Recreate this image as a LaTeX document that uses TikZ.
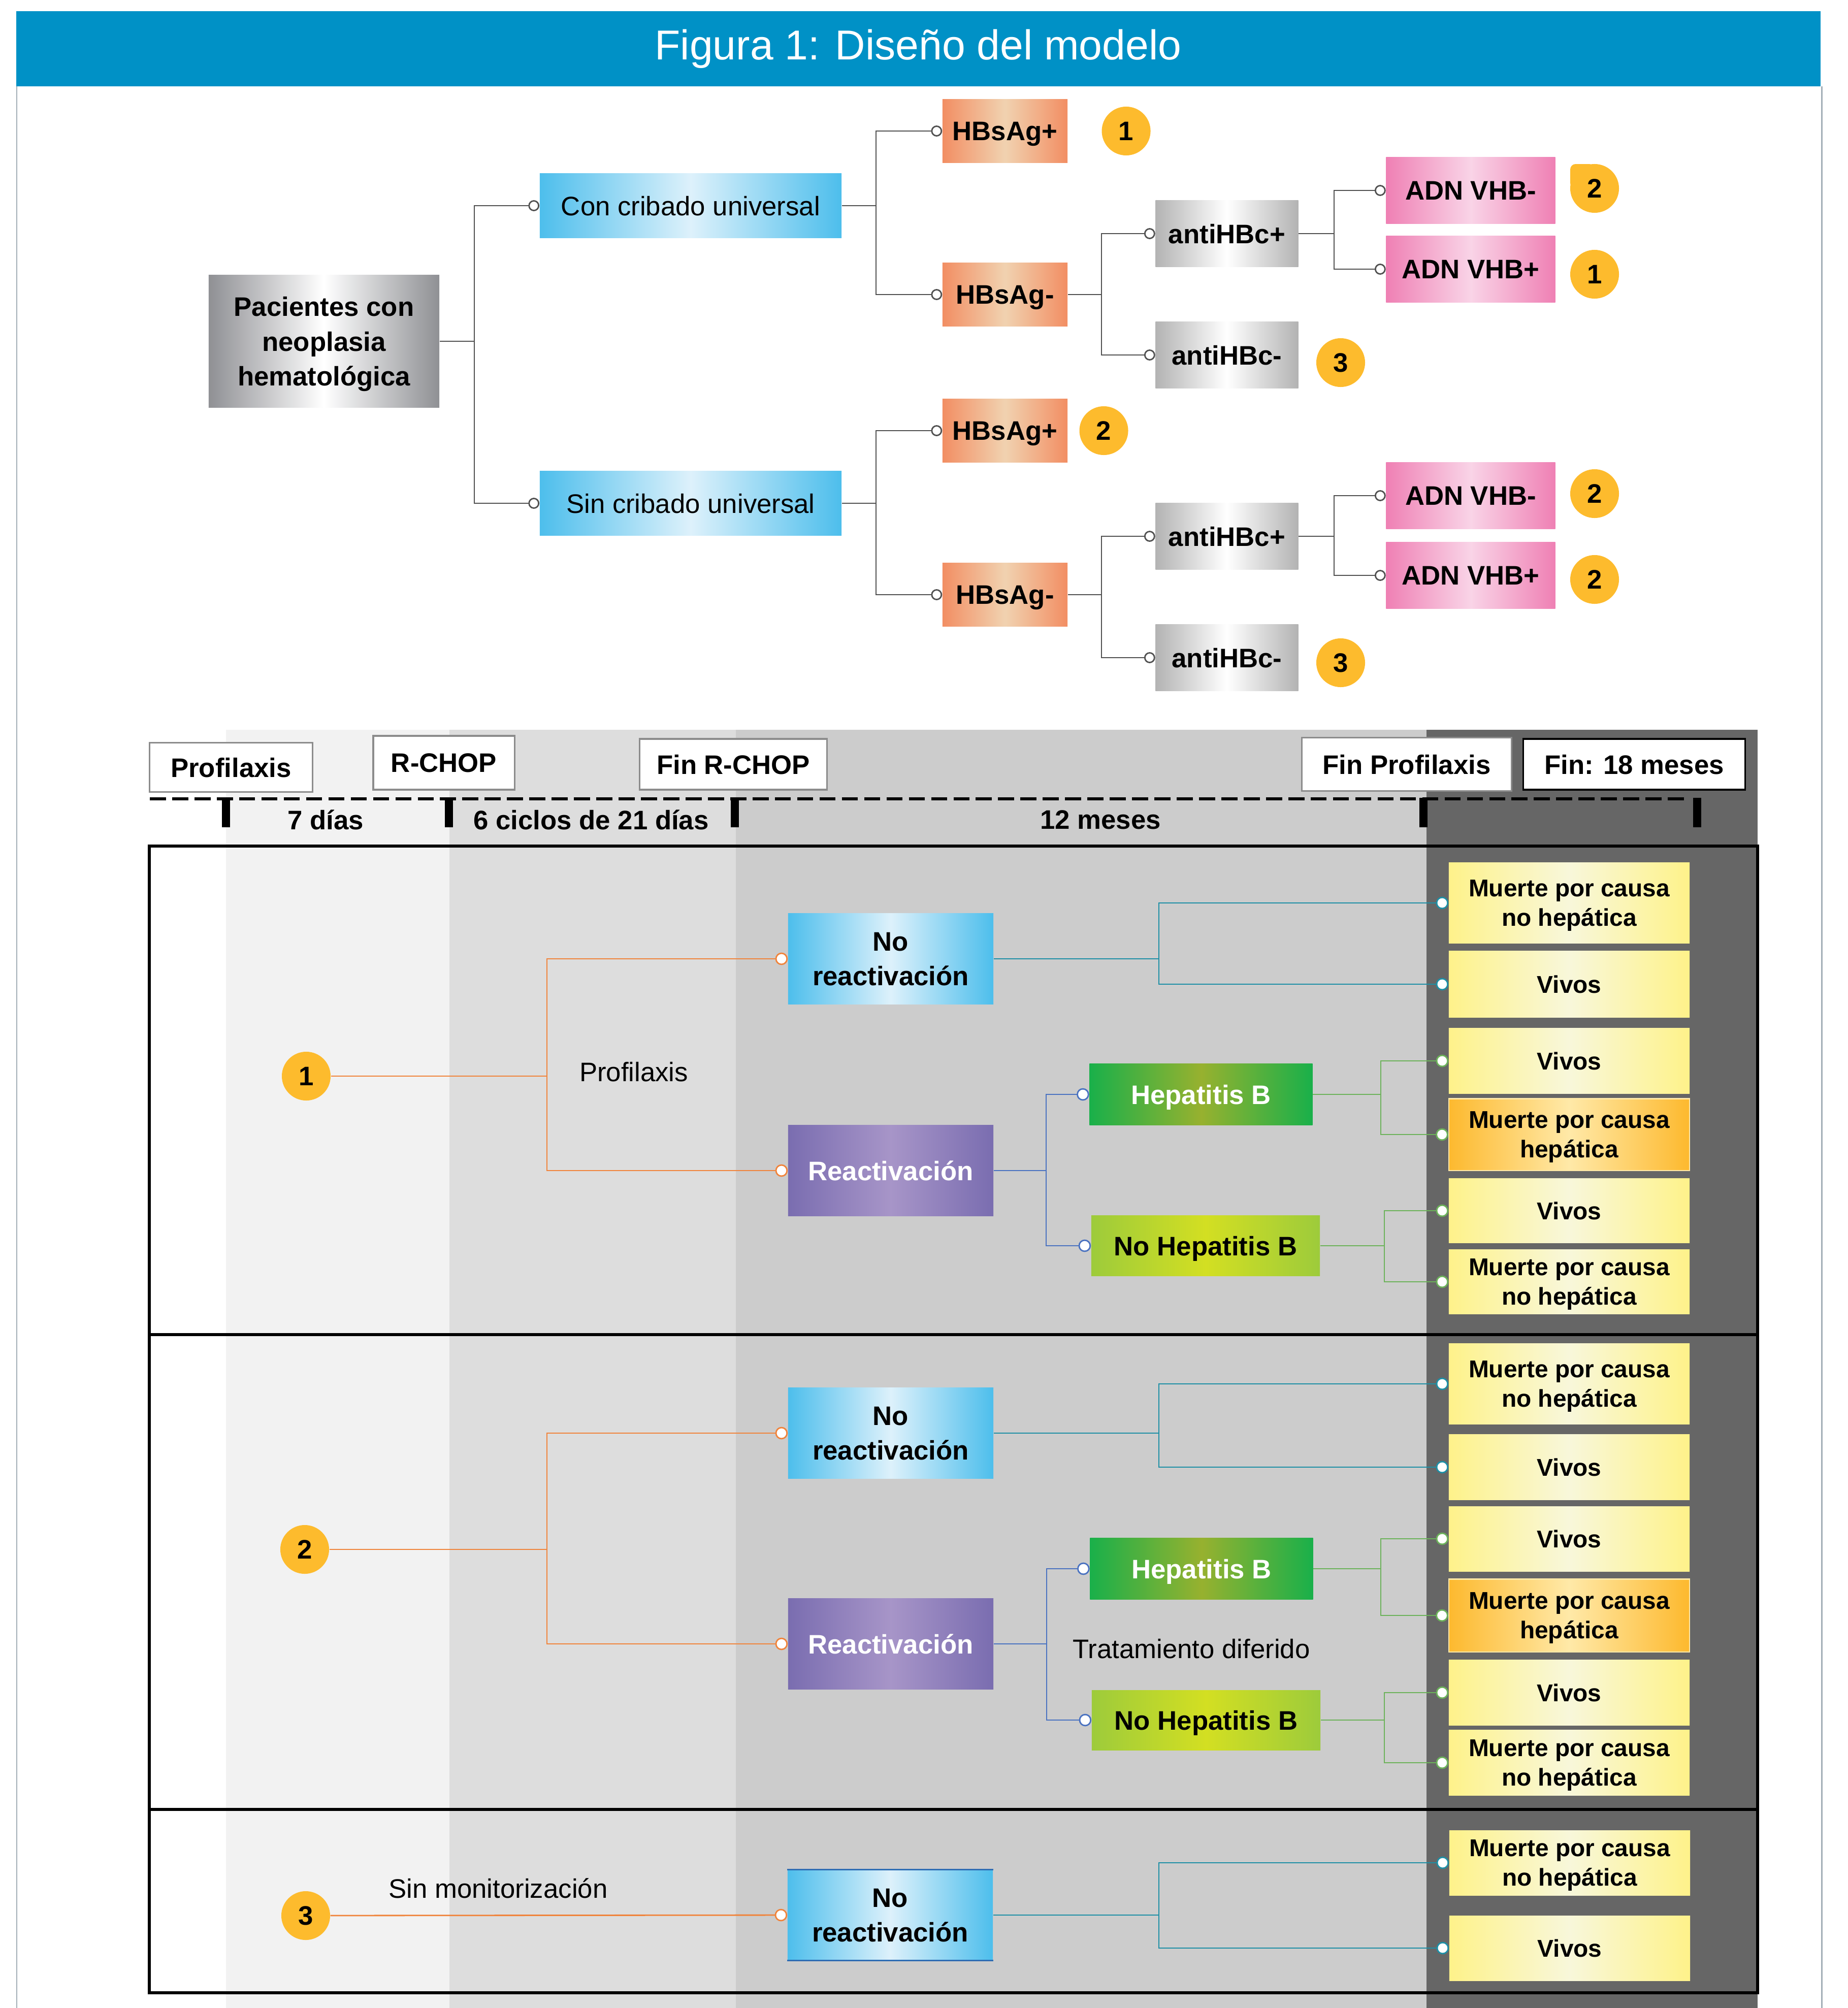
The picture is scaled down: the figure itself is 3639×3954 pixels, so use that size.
\documentclass[tikz,border=0pt]{standalone}
\usepackage{fontspec}
\setmainfont{Liberation Sans}
\usetikzlibrary{positioning,arrows.meta}
\definecolor{bandblue}{HTML}{0091C6}
\definecolor{pageline}{HTML}{A3AFB7}
\definecolor{treegray}{HTML}{505050}
\definecolor{gold}{HTML}{FDBB2D}
\definecolor{steel}{HTML}{8F9094}
\definecolor{cyanedge}{HTML}{4DBEEC}
\definecolor{cyanmid}{HTML}{DDF1FB}
\definecolor{salmon}{HTML}{F28E63}
\definecolor{peach}{HTML}{F1D2B0}
\definecolor{silver}{HTML}{B3B3B3}
\definecolor{pinkedge}{HTML}{EF80B4}
\definecolor{pinkmid}{HTML}{F9D4E7}
\definecolor{purpedge}{HTML}{7A6DB0}
\definecolor{purpmid}{HTML}{A795C8}
\definecolor{greenedge}{HTML}{19B04A}
\definecolor{greenmid}{HTML}{97B12F}
\definecolor{limeedge}{HTML}{9DCB3B}
\definecolor{limemid}{HTML}{D3DF22}
\definecolor{yellowedge}{HTML}{FEF28A}
\definecolor{yellowmid}{HTML}{F8F7DA}
\definecolor{amberedge}{HTML}{FDB92E}
\definecolor{ambermid}{HTML}{FFE9A8}
\definecolor{colA}{HTML}{F2F2F2}
\definecolor{colB}{HTML}{DDDDDD}
\definecolor{colC}{HTML}{CCCCCC}
\definecolor{colD}{HTML}{666666}
\definecolor{tagedge}{HTML}{8C8C8C}
\definecolor{orangeline}{HTML}{F0843C}
\definecolor{tealline}{HTML}{1E8FA5}
\definecolor{blueline}{HTML}{4A72C0}
\definecolor{greenline}{HTML}{6CB25A}
\definecolor{darkblue}{HTML}{2E6DB4}
\tikzset{
    x=0.01cm, y=-0.01cm, % one unit is one pixel of the layout, y grows downwards
    }

\begin{document}
\begin{tikzpicture}[
basebox/.style={rectangle, inner sep=0pt, align=center, text depth=0pt, font=\fontsize{15}{19.4}\selectfont\bfseries},
pacbox/.style={basebox, left color=steel, right color=steel, middle color=white, minimum width=4.54cm, minimum height=2.6cm},
cribbox/.style={basebox, font=\fontsize{15}{19.4}\selectfont, left color=cyanedge, right color=cyanedge, middle color=cyanmid, minimum width=5.94cm, minimum height=1.27cm},
hbsbox/.style={basebox, left color=salmon, right color=salmon, middle color=peach, minimum width=2.46cm, minimum height=1.25cm},
antibox/.style={basebox, left color=silver, right color=silver, middle color=white, minimum width=2.81cm, minimum height=1.3cm},
adnbox/.style={basebox, left color=pinkedge, right color=pinkedge, middle color=pinkmid, minimum width=3.33cm, minimum height=1.3cm},
badge/.style={circle, fill=gold, inner sep=0pt, minimum size=0.96cm, font=\fontsize{15}{18}\selectfont\bfseries},
tagbox/.style={basebox, draw=tagedge, line width=0.9pt, fill=white},
spanlabel/.style={font=\fontsize{15}{18}\selectfont\bfseries, inner sep=0pt},
plainlabel/.style={font=\fontsize{15}{18}\selectfont, inner sep=0pt},
noreac/.style={basebox, left color=cyanedge, right color=cyanedge, middle color=cyanmid, minimum width=4.04cm, minimum height=1.78cm},
reac/.style={basebox, text=white, left color=purpedge, right color=purpedge, middle color=purpmid, minimum width=4.04cm, minimum height=1.79cm},
hepb/.style={basebox, text=white, left color=greenedge, right color=greenedge, middle color=greenmid, minimum width=4.39cm, minimum height=1.21cm},
nohepb/.style={basebox, left color=limeedge, right color=limeedge, middle color=limemid, minimum width=4.5cm, minimum height=1.18cm},
outbox/.style={basebox, font=\fontsize{13.6}{16.5}\selectfont\bfseries, left color=yellowedge, right color=yellowedge, middle color=yellowmid, minimum width=4.74cm},
hepout/.style={outbox, draw=ambermid, line width=0.6pt, left color=amberedge, right color=amberedge, middle color=ambermid},
tree/.style={draw=treegray, line width=0.8pt},
cend/.style={-{Circle[fill=white,length=6.2pt,width=6.2pt]}},
lend/.style={-{Circle[fill=white,length=7pt,width=7pt]}},
frame/.style={line width=1.6pt},
]
\useasboundingbox (0,0) rectangle (3639,3954);

% title band and page rules
\fill[bandblue] (32,22) rectangle (3585,170);
\node[font=\fontsize{23.4}{28}\selectfont, text=white] (title) at (1808,96) {Figura 1: Diseño del modelo};
\draw[pageline, line width=0.85pt] (33,170) -- (33,3954);
\draw[pageline, line width=0.85pt] (3587,170) -- (3587,3954);

% screening tree
\node[pacbox] (pac) at (638,672) {Pacientes con\\neoplasia\\hematológica};
\node[cribbox] (con) at (1360,405) {Con cribado universal};
\node[cribbox] (sin) at (1360,991) {Sin cribado universal};

\node[hbsbox] (hp1) at (1979,258) {HBsAg+};
\node[hbsbox] (hn1) at (1979,580) {HBsAg-};
\node[hbsbox] (hp2) at (1979,848) {HBsAg+};
\node[hbsbox] (hn2) at (1979,1171) {HBsAg-};
\node[antibox] (ap1) at (2416,460) {antiHBc+};
\node[antibox] (an1) at (2416,699) {antiHBc-};
\node[antibox] (ap2) at (2416,1056) {antiHBc+};
\node[antibox] (an2) at (2416,1295) {antiHBc-};
\node[adnbox] (dn1) at (2896,375) {ADN VHB-};
\node[adnbox] (dp1) at (2896,530) {ADN VHB+};
\node[adnbox] (dn2) at (2896,976) {ADN VHB-};
\node[adnbox] (dp2) at (2896,1133) {ADN VHB+};

\node[badge] (c1) [right=0.66cm of hp1] {1};
\fill[gold, rounded corners=3pt] (3092,323) rectangle (3140,371);
\node[badge] (c2) at (3140,371) {2};
\node[badge] (c3) at (3140,540) {1};
\node[badge] (c4) at (2640,714) {3};
\node[badge] (c5) [right=0.22cm of hp2] {2};
\node[badge] (c6) at (3140,972) {2};
\node[badge] (c7) at (3140,1141) {2};
\node[badge] (c8) at (2640,1305) {3};

\coordinate (k0) at (934,672);
\coordinate (k1) at (1725,405);
\coordinate (k2) at (2169,580);
\coordinate (k3) at (2627,460);
\coordinate (k4) at (1725,991);
\coordinate (k5) at (2169,1171);
\coordinate (k6) at (2627,1056);
\draw[tree] (pac.east) -- (k0);
\draw[tree,cend] (k0) |- (con.west);
\draw[tree,cend] (k0) |- (sin.west);
\draw[tree] (con.east) -- (k1);
\draw[tree,cend] (k1) |- (hp1.west);
\draw[tree,cend] (k1) |- (hn1.west);
\draw[tree] (hn1.east) -- (k2);
\draw[tree,cend] (k2) |- (ap1.west);
\draw[tree,cend] (k2) |- (an1.west);
\draw[tree] (ap1.east) -- (k3);
\draw[tree,cend] (k3) |- (dn1.west);
\draw[tree,cend] (k3) |- (dp1.west);
\draw[tree] (sin.east) -- (k4);
\draw[tree,cend] (k4) |- (hp2.west);
\draw[tree,cend] (k4) |- (hn2.west);
\draw[tree] (hn2.east) -- (k5);
\draw[tree,cend] (k5) |- (ap2.west);
\draw[tree,cend] (k5) |- (an2.west);
\draw[tree] (ap2.east) -- (k6);
\draw[tree,cend] (k6) |- (dn2.west);
\draw[tree,cend] (k6) |- (dp2.west);

% time columns
\fill[colA] (445,1437) rectangle (885,3954);
\fill[colB] (885,1437) rectangle (1449,3954);
\fill[colC] (1449,1437) rectangle (2809,3954);
\fill[colD] (2809,1437) rectangle (3461,3954);

\node[tagbox, minimum width=3.2cm, minimum height=0.97cm] (tprof) at (455,1511) {Profilaxis};
\node[tagbox, minimum width=2.78cm, minimum height=1.06cm] (trchop) at (874,1502) {R-CHOP};
\node[tagbox, minimum width=3.68cm, minimum height=1cm] (tfinr) at (1444,1505) {Fin R-CHOP};
\node[tagbox, minimum width=4.13cm, minimum height=1.05cm] (tfinp) at (2770,1505) {Fin Profilaxis};
\node[tagbox, draw=black, minimum width=4.36cm, minimum height=1cm] (tfin) at (3218,1505) {Fin: 18 meses};

\draw[line width=1.5pt, dash pattern=on 9pt off 3.5pt] (295,1573) -- (3323,1573);
\draw[line width=4.5pt] (445,1571) -- (445,1629);
\draw[line width=4.5pt] (884,1571) -- (884,1629);
\draw[line width=4.5pt] (1447,1571) -- (1447,1629);
\draw[line width=4.5pt] (2803,1571) -- (2803,1629);
\draw[line width=4.5pt] (3342,1571) -- (3342,1629);
\node[spanlabel] (d7) at (641,1614) {7 días};
\node[spanlabel] (d21) at (1164,1614) {6 ciclos de 21 días};
\node[spanlabel] (d12) at (2167,1614) {12 meses};

\draw[frame] (294,1666) rectangle (3461,3924);
\draw[frame] (294,2628) -- (3461,2628);
\draw[frame] (294,3563) -- (3461,3563);

% arm 1
\node[badge] (b1) at (603,2119) {1};
\node[noreac] (nr1) at (1754,1888) {No\\reactivación};
\node[reac] (re1) at (1754,2305) {Reactivación};
\node[hepb] (hb1) at (2365,2155) {Hepatitis B};
\node[nohepb] (nh1) at (2374,2453) {No Hepatitis B};
\node[outbox, minimum height=1.59cm] (m11) at (3090,1778) {Muerte por causa\\no hepática};
\node[outbox, minimum height=1.3cm] (v11) at (3090,1938) {Vivos};
\node[outbox, minimum height=1.28cm] (v12) at (3090,2089) {Vivos};
\node[hepout, minimum height=1.41cm] (h11) at (3090,2234) {Muerte por causa\\hepática};
\node[outbox, minimum height=1.27cm] (v13) at (3090,2384) {Vivos};
\node[outbox, minimum height=1.26cm] (m12) at (3090,2524) {Muerte por causa\\no hepática};
\node[plainlabel] (lprof) at (1248,2111) {Profilaxis};

\coordinate (o1) at (1077,2119);
\coordinate (t1) at (2282,1888);
\coordinate (u1) at (2060,2305);
\coordinate (g1) at (2719,2155);
\coordinate (g2) at (2726,2453);
\draw[orangeline, line width=0.8pt] (b1) -- (o1);
\draw[orangeline, line width=0.8pt, lend] (o1) |- (nr1.west);
\draw[orangeline, line width=0.8pt, lend] (o1) |- (re1.west);
\draw[tealline, line width=0.8pt] (nr1.east) -- (t1);
\draw[tealline, line width=0.8pt, lend] (t1) |- (m11.west);
\draw[tealline, line width=0.8pt, lend] (t1) |- (v11.west);
\draw[blueline, line width=0.8pt] (re1.east) -- (u1);
\draw[blueline, line width=0.8pt, lend] (u1) |- (hb1.west);
\draw[blueline, line width=0.8pt, lend] (u1) |- (nh1.west);
\draw[greenline, line width=0.8pt] (hb1.east) -- (g1);
\draw[greenline, line width=0.8pt, lend] (g1) |- (v12.west);
\draw[greenline, line width=0.8pt, lend] (g1) |- (h11.west);
\draw[greenline, line width=0.8pt] (nh1.east) -- (g2);
\draw[greenline, line width=0.8pt, lend] (g2) |- (v13.west);
\draw[greenline, line width=0.8pt, lend] (g2) |- (m12.west);

% arm 2
\node[badge] (b2) at (600,3051) {2};
\node[noreac] (nr2) at (1754,2822) {No\\reactivación};
\node[reac] (re2) at (1754,3237) {Reactivación};
\node[hepb] (hb2) at (2366,3089) {Hepatitis B};
\node[nohepb] (nh2) at (2375,3387) {No Hepatitis B};
\node[outbox, minimum height=1.59cm] (m21) at (3090,2725) {Muerte por causa\\no hepática};
\node[outbox, minimum height=1.29cm] (v21) at (3090,2889) {Vivos};
\node[outbox, minimum height=1.28cm] (v22) at (3090,3030) {Vivos};
\node[hepout, minimum height=1.43cm] (h21) at (3090,3181) {Muerte por causa\\hepática};
\node[outbox, minimum height=1.29cm] (v23) at (3090,3333) {Vivos};
\node[outbox, minimum height=1.29cm] (m22) at (3090,3471) {Muerte por causa\\no hepática};
\node[plainlabel] (ltrat) at (2346,3247) {Tratamiento diferido};

\coordinate (o2) at (1077,3051);
\coordinate (t2) at (2282,2822);
\coordinate (u2) at (2061,3237);
\coordinate (g3) at (2719,3089);
\coordinate (g4) at (2726,3387);
\draw[orangeline, line width=0.8pt] (b2) -- (o2);
\draw[orangeline, line width=0.8pt, lend] (o2) |- (nr2.west);
\draw[orangeline, line width=0.8pt, lend] (o2) |- (re2.west);
\draw[tealline, line width=0.8pt] (nr2.east) -- (t2);
\draw[tealline, line width=0.8pt, lend] (t2) |- (m21.west);
\draw[tealline, line width=0.8pt, lend] (t2) |- (v21.west);
\draw[blueline, line width=0.8pt] (re2.east) -- (u2);
\draw[blueline, line width=0.8pt, lend] (u2) |- (hb2.west);
\draw[blueline, line width=0.8pt, lend] (u2) |- (nh2.west);
\draw[greenline, line width=0.8pt] (hb2.east) -- (g3);
\draw[greenline, line width=0.8pt, lend] (g3) |- (v22.west);
\draw[greenline, line width=0.8pt, lend] (g3) |- (h21.west);
\draw[greenline, line width=0.8pt] (nh2.east) -- (g4);
\draw[greenline, line width=0.8pt, lend] (g4) |- (v23.west);
\draw[greenline, line width=0.8pt, lend] (g4) |- (m22.west);

% arm 3
\node[badge] (b3) at (602,3772) {3};
\node[noreac] (nr3) at (1753,3771) {No\\reactivación};
\draw[darkblue, line width=0.9pt] (nr3.north west) -- (nr3.north east);
\draw[darkblue, line width=0.9pt] (nr3.south west) -- (nr3.south east);
\node[outbox, minimum height=1.28cm] (m31) at (3091,3668) {Muerte por causa\\no hepática};
\node[outbox, minimum height=1.28cm] (v31) at (3091,3836) {Vivos};
\node[plainlabel] (lsin) at (981,3718) {Sin monitorización};

\coordinate (t3) at (2282,3771);
\draw[orangeline, line width=0.8pt, lend] (b3) -- (nr3.west);
\draw[tealline, line width=0.8pt] (nr3.east) -- (t3);
\draw[tealline, line width=0.8pt, lend] (t3) |- (m31.west);
\draw[tealline, line width=0.8pt, lend] (t3) |- (v31.west);
\end{tikzpicture}
\end{document}
